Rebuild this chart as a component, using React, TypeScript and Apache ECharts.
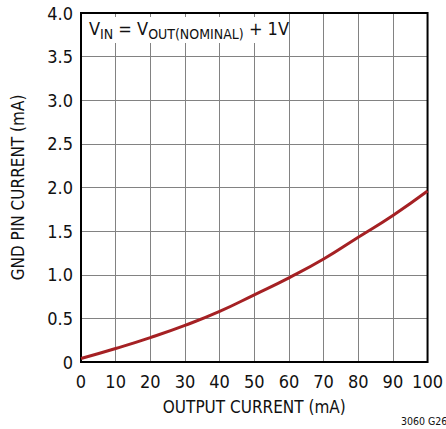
import React, { useEffect, useRef } from "react";
import * as echarts from "echarts";

const outputCurrent = [0, 10, 20, 30, 40, 50, 60, 70, 80, 90, 100];
const gndPinCurrent = [0.04, 0.155, 0.28, 0.42, 0.58, 0.77, 0.965, 1.18, 1.43, 1.68, 1.96];
const xTicks = { min: 0, max: 100, interval: 10 };
const yTicks = { min: 0, max: 4, interval: 0.5 };

const FONT = "'Liberation Sans Narrow', 'DejaVu Sans Condensed', 'Roboto', sans-serif";

export default function App() {
  const ref = useRef<HTMLDivElement>(null);
  useEffect(() => {
    if (!ref.current) return;
    const chart = echarts.init(ref.current, undefined, { renderer: "svg" });
    chart.setOption({
      animation: false,
      backgroundColor: "#fff",
      textStyle: { fontFamily: FONT },
      grid: {
        left: 81,
        right: 14,
        top: 13,
        bottom: 67,
        show: true,
        borderColor: "#000",
        borderWidth: 2,
        backgroundColor: "transparent",
        z: 3,
      },
      xAxis: {
        type: "value",
        min: xTicks.min,
        max: xTicks.max,
        interval: xTicks.interval,
        name: "OUTPUT CURRENT (mA)",
        nameLocation: "middle",
        nameGap: 36,
        nameTextStyle: { fontSize: 17, color: "#111", fontFamily: FONT },
        axisLine: { show: false },
        axisTick: { show: false },
        axisLabel: { fontSize: 18, color: "#111", margin: 10, fontFamily: FONT },
        splitLine: { show: true, lineStyle: { color: "#828282", width: 1 } },
      },
      yAxis: {
        type: "value",
        min: yTicks.min,
        max: yTicks.max,
        interval: yTicks.interval,
        name: "GND PIN CURRENT (mA)",
        nameLocation: "middle",
        nameGap: 55,
        nameTextStyle: { fontSize: 17, color: "#111", fontFamily: FONT },
        axisLine: { show: false },
        axisTick: { show: false },
        axisLabel: {
          fontSize: 18,
          color: "#111",
          margin: 8,
          fontFamily: FONT,
          formatter: (v: number) => (v === 0 ? "0" : v.toFixed(1)),
        },
        splitLine: { show: true, lineStyle: { color: "#828282", width: 1 } },
      },
      series: [
        {
          type: "line",
          data: outputCurrent.map((x, i) => [x, gndPinCurrent[i]]),
          smooth: true,
          showSymbol: false,
          lineStyle: { color: "#a52124", width: 3 },
          z: 5,
        },
      ],
      graphic: [
        {
          type: "rect",
          shape: { x: 83, y: 17, width: 204, height: 26 },
          style: { fill: "#fff" },
          z: 10,
        },
        {
          type: "text",
          x: 89,
          y: 19,
          z: 11,
          style: {
            text: "{b|V}{s|IN}{b| = V}{s|OUT(NOMINAL)}{b| + 1V}",
            rich: {
              b: { fontSize: 18, fontFamily: FONT, fill: "#111", verticalAlign: "top", lineHeight: 22 },
              s: { fontSize: 14, fontFamily: FONT, fill: "#111", verticalAlign: "bottom", lineHeight: 22, padding: [6, 0, 0, 0] },
            },
          },
        },
        {
          type: "text",
          x: 401,
          y: 415,
          z: 11,
          style: { text: "3060 G26", fontSize: 10.5, fontFamily: FONT, fill: "#111" },
        },
      ],
    });
    return () => chart.dispose();
  }, []);
  return (
    <div
      ref={ref}
      style={{ position: "fixed", left: 0, top: 0, width: 446, height: 429 }}
    />
  );
}
